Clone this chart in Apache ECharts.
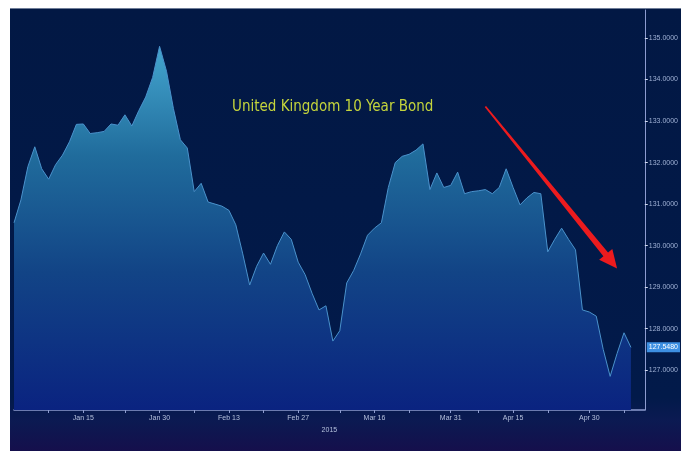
<!DOCTYPE html>
<html>
<head>
<meta charset="utf-8">
<script src="https://cdn.jsdelivr.net/npm/echarts@6/dist/echarts.min.js"></script>
<style>
  html, body { margin: 0; padding: 0; background: #ffffff; }
  #chart {
    position: absolute;
    left: 10px;
    top: 8px;
    width: 671px;
    height: 443px;
    background: linear-gradient(#021844 0%, #021a4a 88%, #0b1a52 93%, #150f4c 100%);
  }
  #edge {
    position: absolute;
    left: 10px;
    top: 8px;
    width: 671px;
    height: 1px;
    background: #6f7d98;
  }
</style>
</head>
<body>
<div id="chart"></div>
<div id="edge"></div>
<script>
// business days, Dec 31 2014 .. May 13 2015 (UK holidays skipped)
const dates = [
  "Dec 31",
  "Jan 2", "Jan 5", "Jan 6", "Jan 7", "Jan 8", "Jan 9", "Jan 12", "Jan 13", "Jan 14", "Jan 15",
  "Jan 16", "Jan 19", "Jan 20", "Jan 21", "Jan 22", "Jan 23", "Jan 26", "Jan 27", "Jan 28", "Jan 29", "Jan 30",
  "Feb 2", "Feb 3", "Feb 4", "Feb 5", "Feb 6", "Feb 9", "Feb 10", "Feb 11", "Feb 12", "Feb 13",
  "Feb 16", "Feb 17", "Feb 18", "Feb 19", "Feb 20", "Feb 23", "Feb 24", "Feb 25", "Feb 26", "Feb 27",
  "Mar 2", "Mar 3", "Mar 4", "Mar 5", "Mar 6", "Mar 9", "Mar 10", "Mar 11", "Mar 12", "Mar 13",
  "Mar 16", "Mar 17", "Mar 18", "Mar 19", "Mar 20", "Mar 23", "Mar 24", "Mar 25", "Mar 26", "Mar 27",
  "Mar 30", "Mar 31",
  "Apr 1", "Apr 2", "Apr 7", "Apr 8", "Apr 9", "Apr 10", "Apr 13", "Apr 14", "Apr 15", "Apr 16",
  "Apr 17", "Apr 20", "Apr 21", "Apr 22", "Apr 23", "Apr 24", "Apr 27", "Apr 28", "Apr 29", "Apr 30",
  "May 1", "May 5", "May 6", "May 7", "May 8", "May 11", "May 12", "May 13"
];

const prices = [
  130.55,
  131.10, 131.90, 132.38, 131.85, 131.60, 131.95, 132.18, 132.50, 132.92, 132.93,
  132.70, 132.72, 132.75, 132.93, 132.90, 133.15, 132.88, 133.25, 133.58, 134.05,
  134.80, 134.20, 133.30, 132.55, 132.35, 131.30, 131.50, 131.05, 131.00, 130.95,
  130.85, 130.50, 129.80, 129.05, 129.50, 129.82, 129.55, 130.00, 130.33, 130.15,
  129.60, 129.30, 128.85, 128.45, 128.55, 127.70, 127.95, 129.10, 129.40, 129.80,
  130.25, 130.42, 130.55, 131.40, 132.00, 132.15, 132.20, 132.30, 132.45, 131.35,
  131.75, 131.40, 131.45, 131.77, 131.25, 131.30, 131.32, 131.35, 131.25, 131.40,
  131.85, 131.40, 130.98, 131.15, 131.28, 131.25, 129.85, 130.15, 130.42, 130.15,
  129.90, 128.45, 128.40, 128.30, 127.50, 126.85, 127.40, 127.90, 127.548,
  null, null
];

const tickLabels = ["Jan 15", "Jan 30", "Feb 13", "Feb 27", "Mar 16", "Mar 31", "Apr 15", "Apr 30"];
const minorTickDates = ["Jan 8", "Jan 23", "Feb 6", "Feb 20", "Mar 9", "Mar 23", "Apr 8", "Apr 22", "May 8"];
const yTicks = [127, 128, 129, 130, 131, 132, 133, 134, 135];
const yearLabel = "2015";
const chartTitle = "United Kingdom 10 Year Bond";
const lastPriceLabel = "127.5480";

// annotation arrow, in data coordinates [category index, price]
const arrowFrom = [68, 133.35];
const arrowTo = [87, 129.45];

const lastPrice = prices.filter((v) => v !== null).slice(-1)[0];
const tickSet = new Set(tickLabels.concat(minorTickDates));

const chart = echarts.init(document.getElementById("chart"));

chart.setOption({
  animation: false,
  title: {
    text: chartTitle,
    left: 217,
    top: 87,
    textStyle: {
      color: "#c4d43c",
      fontSize: 15,
      fontWeight: "normal",
      fontFamily: "'Liberation Sans Narrow', 'DejaVu Sans Condensed', 'Liberation Sans', sans-serif"
    }
  },
  grid: { left: 4, right: 31, top: 2, bottom: 41 },
  xAxis: {
    type: "category",
    data: dates,
    boundaryGap: false,
    name: yearLabel,
    nameLocation: "middle",
    nameGap: 15,
    nameTextStyle: { color: "#b4c0dc", fontSize: 7, fontFamily: "Liberation Sans" },
    axisLine: { lineStyle: { color: "#8d9cd0", width: 1.5 } },
    axisTick: {
      interval: (index, value) => tickSet.has(value),
      length: 3,
      lineStyle: { color: "#8d9cd0" }
    },
    axisLabel: {
      interval: (index, value) => tickLabels.includes(value),
      color: "#b4c0dc",
      fontSize: 7,
      margin: 5,
      fontFamily: "Liberation Sans"
    },
    splitLine: { show: false }
  },
  yAxis: {
    type: "value",
    position: "right",
    min: 126.04,
    max: 135.675,
    axisLine: { show: true, lineStyle: { color: "#8d9cd0", width: 1 } },
    axisTick: {
      show: true,
      customValues: yTicks,
      length: 3,
      lineStyle: { color: "#d0d8ee" }
    },
    axisLabel: {
      customValues: yTicks,
      formatter: (value) => value.toFixed(4),
      color: "#9fb0d4",
      fontSize: 7,
      margin: 4,
      fontFamily: "Liberation Sans"
    },
    splitLine: { show: false }
  },
  series: [
    {
      type: "line",
      data: prices,
      showSymbol: false,
      connectNulls: false,
      lineStyle: { color: "#4a92cc", width: 1 },
      areaStyle: {
        opacity: 1,
        color: new echarts.graphic.LinearGradient(0, 0, 0, 1, [
          { offset: 0, color: "#44a6cf" },
          { offset: 0.3, color: "#206c9c" },
          { offset: 0.62, color: "#124486" },
          { offset: 1, color: "#0a2380" }
        ])
      },
      markLine: {
        silent: true,
        symbol: ["none", "none"],
        lineStyle: { color: "rgba(0,0,0,0)", width: 0 },
        label: {
          show: true,
          position: "end",
          distance: 2,
          formatter: lastPriceLabel,
          color: "#ffffff",
          fontSize: 7,
          fontFamily: "Liberation Sans",
          backgroundColor: "#3d8fe2",
          padding: [2, 2, 1, 2]
        },
        data: [{ yAxis: lastPrice }]
      }
    }
  ]
});

// tapered red arrow drawn from the data coordinates above
function drawArrow() {
  const p0 = chart.convertToPixel({ xAxisIndex: 0, yAxisIndex: 0 }, arrowFrom);
  const p1 = chart.convertToPixel({ xAxisIndex: 0, yAxisIndex: 0 }, arrowTo);
  const dx = p1[0] - p0[0];
  const dy = p1[1] - p0[1];
  const len = Math.sqrt(dx * dx + dy * dy);
  const ux = dx / len;
  const uy = dy / len;
  const nx = -uy;
  const ny = ux;
  const headLen = 18;
  const headHalf = 8.5;
  const w0 = 0.9;
  const w1 = 3;
  const bx = p1[0] - ux * headLen;
  const by = p1[1] - uy * headLen;
  const points = [
    [p0[0] + nx * w0, p0[1] + ny * w0],
    [bx + nx * w1, by + ny * w1],
    [bx + nx * headHalf, by + ny * headHalf],
    [p1[0], p1[1]],
    [bx - nx * headHalf, by - ny * headHalf],
    [bx - nx * w1, by - ny * w1],
    [p0[0] - nx * w0, p0[1] - ny * w0]
  ];
  chart.setOption({
    graphic: [
      {
        type: "polygon",
        shape: { points: points },
        style: { fill: "#ec1b1e" },
        z: 10
      }
    ]
  });
}

drawArrow();
</script>
</body>
</html>
